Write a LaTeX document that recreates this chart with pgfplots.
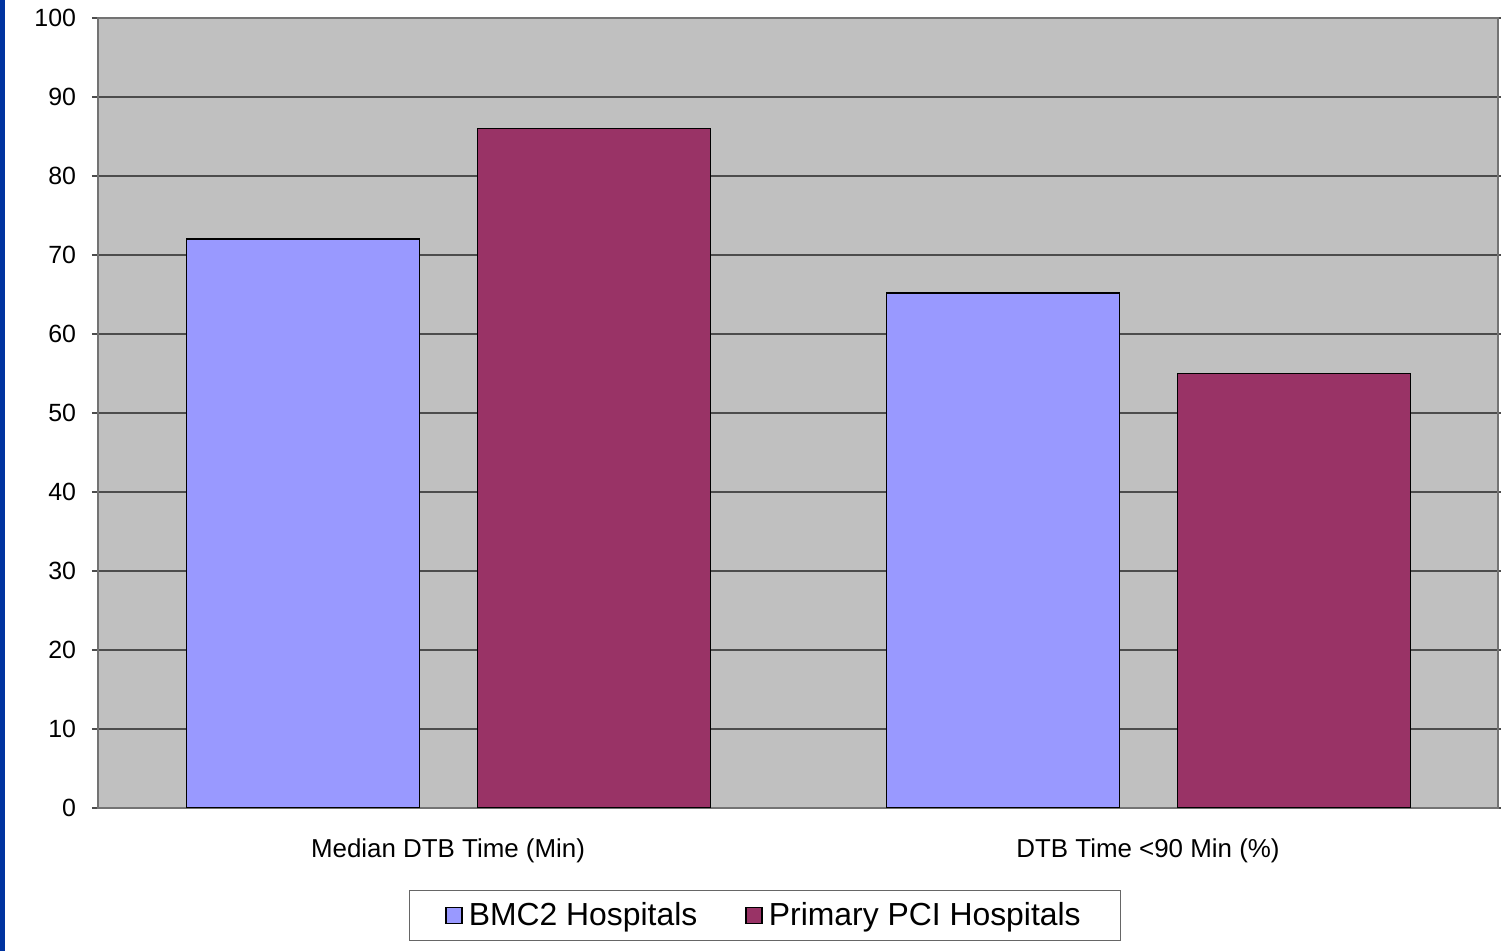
\documentclass[border=0pt]{standalone}
\usepackage{pgfplots}
\pgfplotsset{compat=1.18}
\usepackage{fontspec}
\setmainfont{Liberation Sans}
\definecolor{bmc}{HTML}{9999FF}
\definecolor{pci}{HTML}{993366}
\definecolor{plotbg}{HTML}{C0C0C0}
\definecolor{stripe}{HTML}{0033A0}
\begin{document}
\begin{tikzpicture}
\useasboundingbox (0,0) rectangle (750.5bp,475.5bp);
\fill[stripe] (0,0) rectangle (2.5bp,475.5bp);
\begin{axis}[
  at={(49bp,71.5bp)}, anchor=south west,
  scale only axis, width=700bp, height=395bp,
  xmin=-0.5, xmax=1.5, ymin=0, ymax=100,
  ytick={0,10,...,100},
  xtick=data,
  xticklabels={Median DTB Time (Min), DTB Time <90 Min (\%)},
  axis background/.style={fill=plotbg},
  axis line style={draw=gray!90!black, line width=1pt},
  ymajorgrids, grid style={draw=black!70, line width=0.8pt},
  ybar, bar width=116.5bp,
  y tick style={draw=black!70, line width=0.8pt}, tick align=outside, major tick length=3bp,
  x tick style={draw=none},
  yticklabel style={font=\fontsize{12.5}{14}\selectfont, xshift=-4.5bp},
  xticklabel style={font=\fontsize{13}{15}\selectfont, yshift=-9bp},
  /pgf/number format/assume math mode=true,
  legend columns=2,
  legend style={at={(0.4764,-0.136)}, anchor=center, draw=black!60, line width=0.6pt,
    font=\fontsize{16}{18}\selectfont, inner xsep=18bp, inner ysep=4bp,
    /tikz/every odd column/.append style={column sep=1bp},
    /tikz/every even column/.append style={column sep=22bp}},
  legend image code/.code={\draw[#1, line width=0.8pt] (0bp,-4bp) rectangle (8bp,4bp);},
]
\addplot+[ybar, fill=bmc, draw=black, line width=0.8pt, bar shift=-72.5bp] coordinates {(0,72) (1,65.2)};
\addplot+[ybar, fill=pci, draw=black, line width=0.8pt, bar shift=73bp] coordinates {(0,86) (1,55)};
\legend{BMC2 Hospitals, Primary PCI Hospitals}
\end{axis}
\end{tikzpicture}
\end{document}
